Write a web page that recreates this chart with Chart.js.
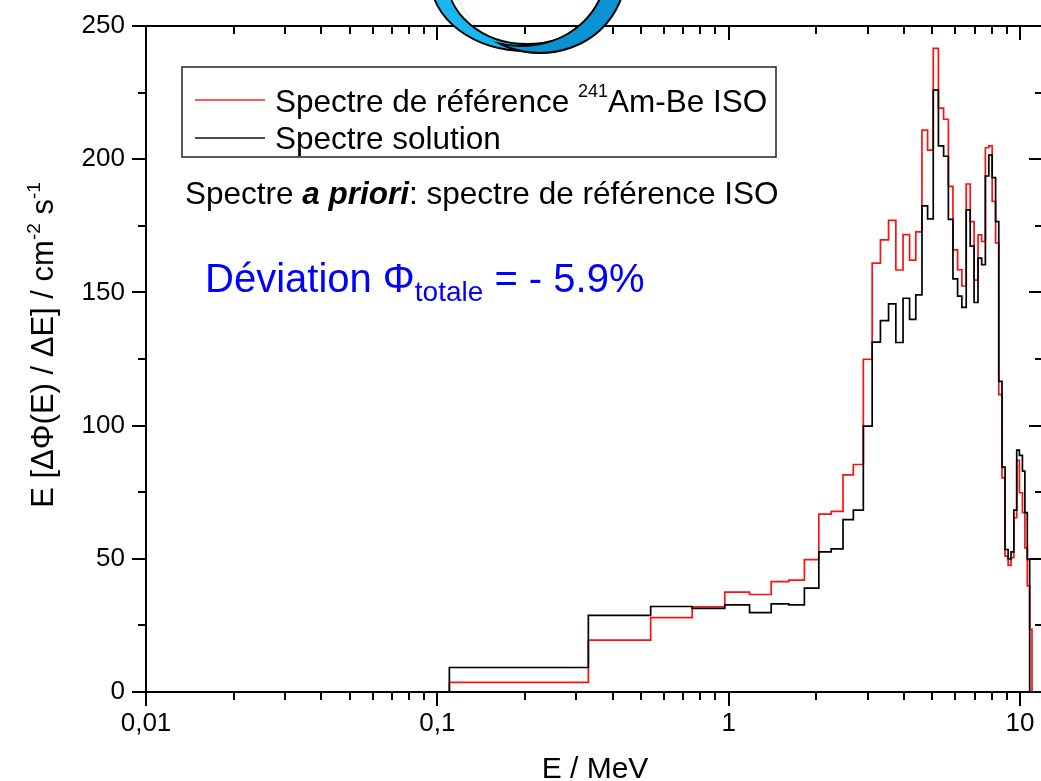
<!DOCTYPE html>
<html>
<head>
<meta charset="utf-8">
<script src="https://cdn.jsdelivr.net/npm/chart.js@4.4.0/dist/chart.umd.min.js"></script>
<style>
  html, body { margin: 0; padding: 0; background: #fff; overflow: hidden; }
  #wrap { width: 1046px; height: 781px; }
</style>
</head>
<body>
<div id="wrap"><canvas id="myChart" width="1046" height="781"></canvas></div>
<script>
// bornes basses des groupes (MeV), derniere borne haute a part
const binLow = [0.11, 0.33, 0.54, 0.75, 0.97, 1.18, 1.40, 1.61, 1.82, 2.04,
  2.25, 2.47, 2.68, 2.90, 3.11, 3.32, 3.54, 3.75, 3.97, 4.18,
  4.39, 4.61, 4.82, 5.04, 5.25, 5.47, 5.68, 5.89, 6.11, 6.32,
  6.54, 6.75, 6.96, 7.18, 7.39, 7.61, 7.82, 8.03, 8.25, 8.46,
  8.68, 8.89, 9.11, 9.32, 9.53, 9.75, 9.96, 10.2, 10.4, 10.6, 10.8];
const binTop = 11.0;
const xEnd = 12;

// spectre de reference 241Am-Be ISO (rouge)
const refSpectrum = [3.6, 19.5, 27.9, 32.0, 37.5, 36.6, 41.4, 42.0, 49.7, 66.8,
  67.8, 81.5, 85.4, 124.9, 161.0, 169.7, 177.0, 158.4, 171.7, 162.1,
  172.7, 210.9, 203.4, 241.6, 219.2, 215.0, 189.8, 166.0, 158.5, 152.4,
  190.7, 176.6, 154.6, 171.6, 169.1, 204.3, 205.0, 184.2, 168.6, 111.6,
  80.4, 51.0, 47.5, 50.4, 65.4, 87.0, 74.8, 67.3, 54.1, 39.8, 23.5];

// spectre solution (noir)
const solSpectrum = [9.2, 28.8, 32.1, 31.4, 32.7, 29.8, 33.1, 32.7, 39.0, 52.6,
  53.7, 64.7, 68.3, 99.8, 131.3, 139.4, 145.7, 131.2, 147.8, 139.9,
  149.1, 182.5, 177.6, 225.9, 205.0, 201.1, 177.4, 155.1, 148.6, 144.4,
  181.0, 167.4, 146.2, 162.9, 160.4, 193.7, 201.5, 193.1, 176.6, 116.6,
  84.4, 53.5, 50.0, 52.6, 68.3, 90.8, 88.8, 82.9, 67.3, 49.8, 0];

const yMajor = [0, 50, 100, 150, 200, 250];
const yMinor = [25, 75, 125, 175, 225];
const xMajor = [0.01, 0.1, 1, 10];
const xLabels = ["0,01", "0,1", "1", "10"];
const xMinorMult = [2, 3, 4, 5, 6, 7, 8, 9];

const FONT = "'Liberation Sans', Arial, sans-serif";

function toSteps(values) {
  const pts = [{ x: binLow[0], y: 0 }];
  values.forEach((v, i) => pts.push({ x: binLow[i], y: v }));
  pts.push({ x: binTop, y: 0 });
  pts.push({ x: xEnd, y: 0 });
  return pts;
}

// ecrit une suite de morceaux (indices, exposants) a la suite
function drawRuns(ctx, x, y, parts) {
  parts.forEach((p) => {
    ctx.font = p.font;
    ctx.fillText(p.t, x, y + (p.dy || 0));
    x += ctx.measureText(p.t).width;
  });
  return x;
}
function runsWidth(ctx, parts) {
  let w = 0;
  parts.forEach((p) => { ctx.font = p.font; w += ctx.measureText(p.t).width; });
  return w;
}

// axes facon Origin : ticks dehors a gauche/en bas, dedans en haut/a droite
const axesPlugin = {
  id: "axes",
  beforeDatasetsDraw(chart) {
    const { ctx, chartArea: a, scales: { x, y } } = chart;
    ctx.save();
    ctx.strokeStyle = "#000";
    ctx.lineWidth = 2;
    ctx.beginPath();
    ctx.rect(a.left, a.top, a.right - a.left, a.bottom - a.top);
    ctx.stroke();

    const tickY = (v, len) => {
      const py = Math.round(y.getPixelForValue(v));
      ctx.beginPath();
      ctx.moveTo(a.left - len, py); ctx.lineTo(a.left, py);
      ctx.moveTo(a.right, py); ctx.lineTo(a.right - len, py);
      ctx.stroke();
    };
    yMajor.forEach((v) => tickY(v, 14));
    yMinor.forEach((v) => tickY(v, 8));

    const tickX = (v, len) => {
      const px = Math.round(x.getPixelForValue(v));
      ctx.beginPath();
      ctx.moveTo(px, a.bottom); ctx.lineTo(px, a.bottom + len);
      ctx.moveTo(px, a.top); ctx.lineTo(px, a.top + len);
      ctx.stroke();
    };
    xMajor.forEach((v) => {
      tickX(v, 14);
      xMinorMult.forEach((m) => { if (v * m < xEnd) tickX(v * m, 8); });
    });

    ctx.fillStyle = "#000";
    ctx.font = "26px " + FONT;
    ctx.textAlign = "right";
    ctx.textBaseline = "middle";
    yMajor.forEach((v) => ctx.fillText(String(v), a.left - 21, y.getPixelForValue(v)));
    ctx.textAlign = "center";
    ctx.textBaseline = "top";
    xMajor.forEach((v, i) => ctx.fillText(xLabels[i], x.getPixelForValue(v), a.bottom + 19));
    ctx.restore();
  },
  afterDraw(chart) {
    const { ctx } = chart;
    ctx.save();
    ctx.fillStyle = "#000";
    ctx.textAlign = "left";
    ctx.textBaseline = "alphabetic";

    // titre axe x
    ctx.font = "30px " + FONT;
    ctx.textAlign = "center";
    ctx.fillText("E / MeV", 595, 778);
    ctx.textAlign = "left";

    // titre axe y
    const big = "31px " + FONT, sup = "19px " + FONT;
    const yt = [
      { t: "E [ΔΦ(E) / ΔE] / cm", font: big },
      { t: "-2", font: sup, dy: -13 },
      { t: " s", font: big },
      { t: "-1", font: sup, dy: -13 }
    ];
    ctx.save();
    ctx.translate(53, 345);
    ctx.rotate(-Math.PI / 2);
    drawRuns(ctx, -runsWidth(ctx, yt) / 2, 0, yt);
    ctx.restore();

    // legende
    ctx.strokeStyle = "#222";
    ctx.lineWidth = 1.5;
    ctx.strokeRect(182, 67, 594, 90);
    ctx.strokeStyle = "#ff2020";
    ctx.beginPath(); ctx.moveTo(195, 100); ctx.lineTo(265, 100); ctx.stroke();
    ctx.strokeStyle = "#111";
    ctx.beginPath(); ctx.moveTo(195, 138); ctx.lineTo(265, 138); ctx.stroke();
    const lf = "31.5px " + FONT;
    drawRuns(ctx, 275, 112, [
      { t: "Spectre de référence ", font: lf },
      { t: "241", font: "18px " + FONT, dy: -15 },
      { t: "Am-Be ISO", font: lf }
    ]);
    ctx.font = lf;
    ctx.fillText("Spectre solution", 275, 149);

    drawRuns(ctx, 185, 204, [
      { t: "Spectre ", font: lf },
      { t: "a priori", font: "italic bold 31.5px " + FONT },
      { t: ": spectre de référence ISO", font: lf }
    ]);

    ctx.fillStyle = "#0000ff";
    drawRuns(ctx, 205, 292, [
      { t: "Déviation Φ", font: "40px " + FONT },
      { t: "totale", font: "28px " + FONT, dy: 9 },
      { t: " = - 5.9%", font: "40px " + FONT }
    ]);

    // anneau bleu en haut
    ctx.strokeStyle = "#000";
    ctx.lineWidth = 2;
    crescent(ctx, [527, -20, 96, 71], [527, -22, 80, 66], "#1ab6f0");
    crescent(ctx, [540, -25, 85, 78], [522, -30, 84, 76], "#0a92d2");
    ctx.restore();
  }
};

function crescent(ctx, o, i, fill) {
  ctx.save();
  ctx.beginPath(); ctx.ellipse(o[0], o[1], o[2], o[3], 0, 0, 2 * Math.PI); ctx.clip();
  ctx.beginPath();
  ctx.ellipse(o[0], o[1], o[2], o[3], 0, 0, 2 * Math.PI);
  ctx.moveTo(i[0] + i[2], i[1]);
  ctx.ellipse(i[0], i[1], i[2], i[3], 0, 0, 2 * Math.PI);
  ctx.fillStyle = fill;
  ctx.fill("evenodd");
  ctx.beginPath(); ctx.ellipse(i[0], i[1], i[2], i[3], 0, 0, 2 * Math.PI); ctx.stroke();
  ctx.restore();
  ctx.save();
  ctx.beginPath();
  ctx.rect(0, 0, 1046, 781);
  ctx.moveTo(i[0] + i[2], i[1]);
  ctx.ellipse(i[0], i[1], i[2], i[3], 0, 0, 2 * Math.PI);
  ctx.clip("evenodd");
  ctx.beginPath(); ctx.ellipse(o[0], o[1], o[2], o[3], 0, 0, 2 * Math.PI); ctx.stroke();
  ctx.restore();
}

const ctx = document.getElementById("myChart").getContext("2d");
new Chart(ctx, {
  type: "line",
  data: {
    datasets: [
      {
        label: "Spectre de référence 241Am-Be ISO",
        data: toSteps(refSpectrum),
        borderColor: "#ff1010",
        borderWidth: 1.7,
        stepped: true,
        pointRadius: 0,
        fill: false,
        order: 1
      },
      {
        label: "Spectre solution",
        data: toSteps(solSpectrum),
        borderColor: "#000000",
        borderWidth: 1.7,
        stepped: true,
        pointRadius: 0,
        fill: false,
        order: 0
      }
    ]
  },
  options: {
    responsive: false,
    animation: false,
    devicePixelRatio: 1,
    layout: { padding: { left: 146, top: 26, right: 3, bottom: 89 } },
    plugins: { legend: { display: false }, tooltip: { enabled: false } },
    scales: {
      x: { type: "logarithmic", min: 0.01, max: xEnd, display: false },
      y: { type: "linear", min: 0, max: 250, display: false }
    }
  },
  plugins: [axesPlugin]
});
</script>
</body>
</html>
